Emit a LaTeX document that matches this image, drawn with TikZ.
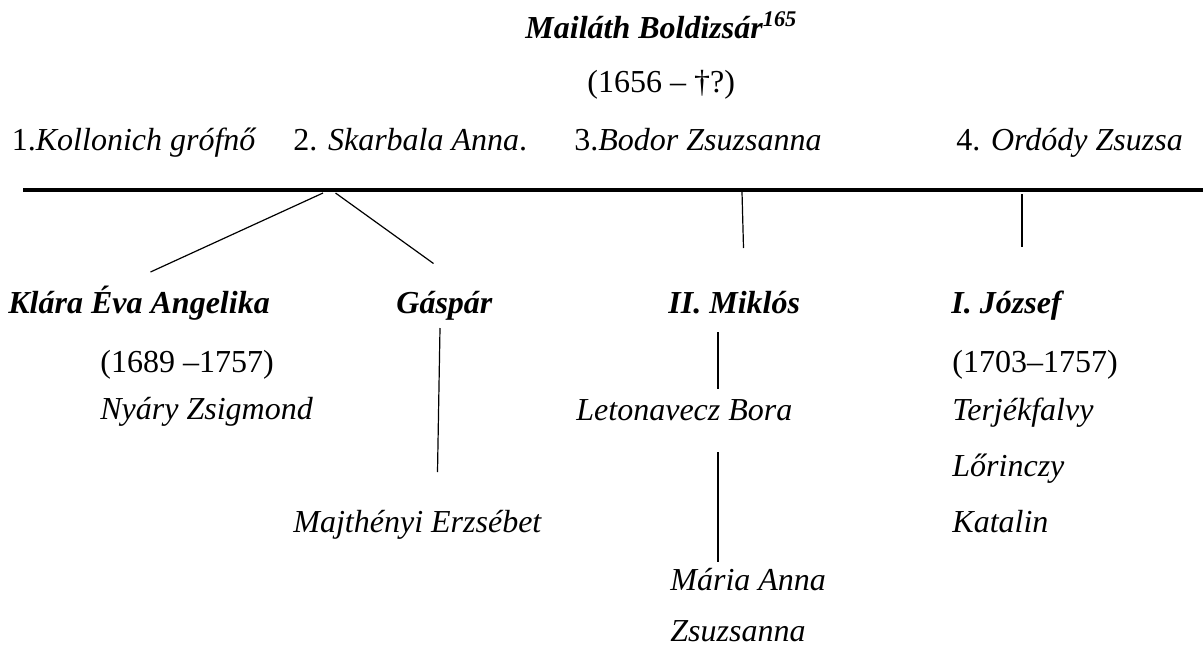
\documentclass[tikz,border=0pt]{standalone}
\usepackage{fontspec}
\setmainfont{Liberation Serif}
\usepackage{tikz}
\tikzstyle{txt}=[inner sep=0pt,anchor=base west,font=\fontsize{16}{19}\selectfont]
\tikzstyle{person}=[txt,font=\fontsize{16}{19}\selectfont\bfseries\itshape]
\tikzstyle{spouse}=[txt,font=\fontsize{16}{19}\selectfont\itshape]
\tikzstyle{link}=[line width=0.6pt]

\begin{document}
\begin{tikzpicture}[x=0.5pt,y=-0.5pt]
      \useasboundingbox (0,0) rectangle (1203,648);

      \node[person] (root) at (525,39) {Mailáth Boldizsár\textsuperscript{165}};
      \node[txt] (rootd) at (587,92) {(1656 – †?)};

      \node[txt] (w1) at (11.5,150) {1.\textit{Kollonich grófnő}};
      \node[txt] (w2) at (293,150) {2. \textit{Skarbala Anna}.};
      \node[txt] (w3) at (574,150) {3.\textit{Bodor Zsuzsanna}};
      \node[txt] (w4) at (956,150) {4. \textit{Ordódy Zsuzsa}};

      \coordinate (bl) at (23,189.5);
      \coordinate (br) at (1203,189.5);
      \draw[line width=2pt] (bl) -- (br);

      \node[person] (klara) at (8,313) {Klára Éva Angelika};
      \node[person] (gaspar) at (396,313) {Gáspár};
      \node[person] (miklos) at (668,313) {II. Miklós};
      \node[person] (jozsef) at (951,313) {I. József};

      \node[txt] (klarad) at (100,372) {(1689 –1757)};
      \node[txt] (jozsefd) at (952,372) {(1703–1757)};

      \node[spouse] (nyary) at (100,419) {Nyáry Zsigmond};
      \node[spouse] (bora) at (576,420) {Letonavecz Bora};
      \node[spouse] (terj) at (952,420) {Terjékfalvy};
      \node[spouse] (lor) at (952,476) {Lőrinczy};
      \node[spouse] (kata) at (952,532) {Katalin};
      \node[spouse] (majt) at (293,532) {Majthényi Erzsébet};
      \node[spouse] (maria) at (670,590) {Mária Anna};
      \node[spouse] (zsuzsa) at (670,641) {Zsuzsanna};

      \coordinate (a1) at (323,193);
      \coordinate (a2) at (150.5,272);
      \coordinate (b1) at (335.5,193);
      \coordinate (b2) at (433.5,263.5);
      \coordinate (c1) at (742,192);
      \coordinate (c2) at (743.5,248);
      \coordinate (d1) at (1022,194);
      \coordinate (d2) at (1022,247);
      \coordinate (e1) at (440,328);
      \coordinate (e2) at (437.5,472);
      \coordinate (f1) at (718,332);
      \coordinate (f2) at (718,389);
      \coordinate (g1) at (718,452);
      \coordinate (g2) at (718,562);

      \draw[link] (a1) -- (a2);
      \draw[link] (b1) -- (b2);
      \draw[link] (c1) -- (c2);
      \draw[link] (d1) -- (d2);
      \draw[link] (e1) -- (e2);
      \draw[link] (f1) -- (f2);
      \draw[link] (g1) -- (g2);
\end{tikzpicture}
\end{document}
